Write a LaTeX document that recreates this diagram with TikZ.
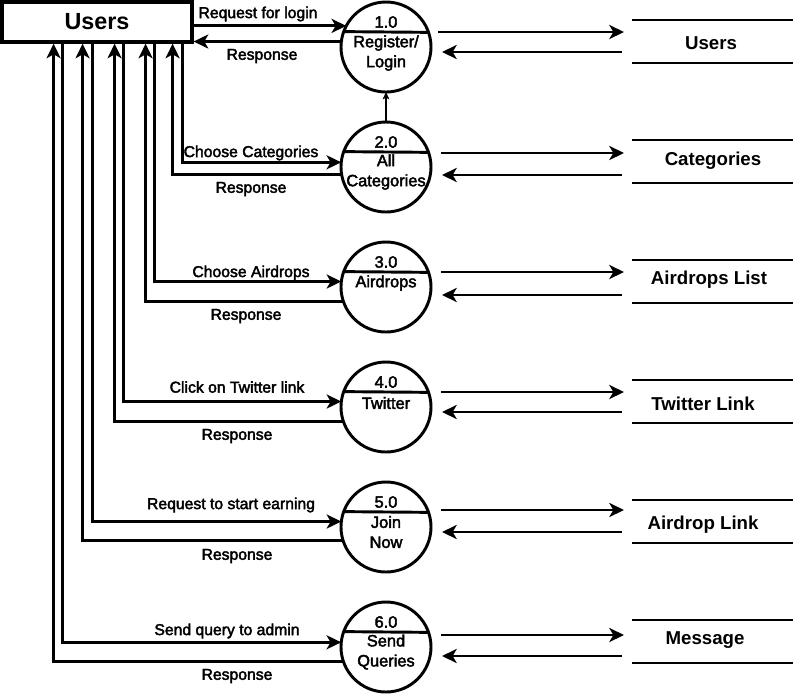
\documentclass[tikz,border=0pt]{standalone}
\usepackage{fontspec}
\setmainfont{Liberation Sans}
\newfontfamily\medfont[FakeBold=2.5]{Liberation Sans}
\usetikzlibrary{arrows.meta,calc}
\begin{document}
\begin{tikzpicture}[x=0.75pt,y=-0.75pt,line width=2.2pt,
  arr/.style={-{Stealth[length=11pt,width=10.5pt,inset=3pt]}},
  thinarr/.style={line width=0.8pt,-{Stealth[length=5.5pt,width=5pt,inset=1.3pt]}},
  ent/.style={draw,line width=2.4pt,minimum width=142.5pt,minimum height=30pt,inner sep=0pt,
    font=\fontsize{17.5}{20}\selectfont\bfseries},
  proc/.style={circle,draw,minimum size=67.5pt,inner sep=0pt,outer sep=0pt},
  ptext/.style={font=\medfont\fontsize{12.3}{15}\selectfont,align=center,inner sep=0pt},
  flow/.style={font=\medfont\fontsize{11.8}{13}\selectfont,inner sep=0pt},
  store/.style={minimum width=120.75pt,minimum height=32.25pt,inner sep=0pt,outer sep=0pt},
  stext/.style={font=\fontsize{14}{16}\selectfont\bfseries,inner sep=0pt}]
\useasboundingbox (0,0) rectangle (793,694);

% external entity
\node[ent] (users) at (97,22) {Users};

% processes
\node[proc] (c1) at (386,47) {};
\node[proc] (c2) at (386,167) {};
\node[proc] (c3) at (386,287) {};
\node[proc] (c4) at (386,407) {};
\node[proc] (c5) at (386,527) {};
\node[proc] (c6) at (386,647) {};
\foreach \c in {c1,c2,c3,c4,c5,c6} {\draw (\c.160.5) -- (\c.19.5);}

\node[ptext] (n1) at ($(c1)+(0,-25)$) {1.0};
\node[ptext] (n2) at ($(c2)+(0,-25)$) {2.0};
\node[ptext] (n3) at ($(c3)+(0,-25)$) {3.0};
\node[ptext] (n4) at ($(c4)+(0,-25)$) {4.0};
\node[ptext] (n5) at ($(c5)+(0,-25)$) {5.0};
\node[ptext] (n6) at ($(c6)+(0,-25)$) {6.0};
\node[ptext] (t1) at ($(c1)+(0,6)$) {Register/\\Login};
\node[ptext] (t2) at ($(c2)+(0,5)$) {All\\Categories};
\node[ptext] (t3) at ($(c3)+(0,-4)$) {Airdrops};
\node[ptext] (t4) at ($(c4)+(0,-4)$) {Twitter};
\node[ptext] (t5) at ($(c5)+(0,5)$) {Join\\Now};
\node[ptext] (t6) at ($(c6)+(0,5)$) {Send\\Queries};

\draw[thinarr] (c2.north) -- (c1.south);

% data stores
\node[store] (s1) at (712.5,41.5) {};
\node[store] (s2) at (712.5,161.5) {};
\node[store] (s3) at (712.5,281.5) {};
\node[store] (s4) at (712.5,401.5) {};
\node[store] (s5) at (712.5,521.5) {};
\node[store] (s6) at (712.5,641.5) {};
\foreach \s in {s1,s2,s3,s4,s5,s6} {
  \draw (\s.north west) -- (\s.north east);
  \draw (\s.south west) -- (\s.south east);}
\node[stext] (sl1) at (711,43) {Users};
\node[stext] (sl2) at (713,161) {Categories};
\node[stext] (sl3) at (709,280) {Airdrops List};
\node[stext] (sl4) at (703,404) {Twitter Link};
\node[stext] (sl5) at (703,525) {Airdrop Link};
\node[stext] (sl6) at (705,640) {Message};

% left flows
\draw[arr] (users.east |- c1.152.2) -- (c1.152.2);
\draw[arr] (c1.173.6) -- (users.east |- c1.173.6);
\node[flow] (l1a) at (258,14) {Request for login};
\node[flow] (l1b) at (262,56) {Response};

\draw[arr] ($(users.south east)+(-11,0)$) |- (c2.174.9);
\draw[arr] (c2.190.2) -| ($(users.south east)+(-21,0)$);
\node[flow] (l2a) at (251,153) {Choose Categories};
\node[flow] (l2b) at (251,189) {Response};

\draw[arr] ($(users.south east)+(-39,0)$) |- (c3.173.6);
\draw[arr] (c3.199.5) -| ($(users.south east)+(-48,0)$);
\node[flow] (l3a) at (251,273) {Choose Airdrops};
\node[flow] (l3b) at (246,316) {Response};

\draw[arr] ($(users.south east)+(-70,0)$) |- (c4.173.6);
\draw[arr] (c4.199.5) -| ($(users.south east)+(-79,0)$);
\node[flow] (l4a) at (237,387) {Click on Twitter link};
\node[flow] (l4b) at (237,436) {Response};

\draw[arr] ($(users.south east)+(-101,0)$) |- (c5.173.6);
\draw[arr] (c5.198.1) -| ($(users.south east)+(-111,0)$);
\node[flow] (l5a) at (231,505) {Request to start earning};
\node[flow] (l5b) at (237,556) {Response};

\draw[arr] ($(users.south east)+(-131,0)$) |- (c6.174.9);
\draw[arr] (c6.199.5) -| ($(users.south east)+(-140,0)$);
\node[flow] (l6a) at (227,631) {Send query to admin};
\node[flow] (l6b) at (237,676) {Response};

% right flows
\draw[arr] ($(c1.east)+(7,-15)$) coordinate (o1) -- ($(s1.west |- o1)+(-8,0)$);
\draw[arr] ($(s1.west)+(-10,10.5)$) coordinate (r1) -- ($(c1.east |- r1)+(11,0)$);
\draw[arr] ($(c2.east)+(10,-14)$) coordinate (o2) -- ($(s2.west |- o2)+(-8,0)$);
\draw[arr] ($(s2.west)+(-10,13.5)$) coordinate (r2) -- ($(c2.east |- r2)+(11,0)$);
\draw[arr] ($(c3.east)+(10,-15)$) coordinate (o3) -- ($(s3.west |- o3)+(-8,0)$);
\draw[arr] ($(s3.west)+(-10,13.5)$) coordinate (r3) -- ($(c3.east |- r3)+(11,0)$);
\draw[arr] ($(c4.east)+(10,-15)$) coordinate (o4) -- ($(s4.west |- o4)+(-8,0)$);
\draw[arr] ($(s4.west)+(-10,10.5)$) coordinate (r4) -- ($(c4.east |- r4)+(11,0)$);
\draw[arr] ($(c5.east)+(10,-17)$) coordinate (o5) -- ($(s5.west |- o5)+(-8,0)$);
\draw[arr] ($(s5.west)+(-10,10.5)$) coordinate (r5) -- ($(c5.east |- r5)+(11,0)$);
\draw[arr] ($(c6.east)+(10,-12)$) coordinate (o6) -- ($(s6.west |- o6)+(-8,0)$);
\draw[arr] ($(s6.west)+(-10,14.5)$) coordinate (r6) -- ($(c6.east |- r6)+(11,0)$);
\end{tikzpicture}
\end{document}
